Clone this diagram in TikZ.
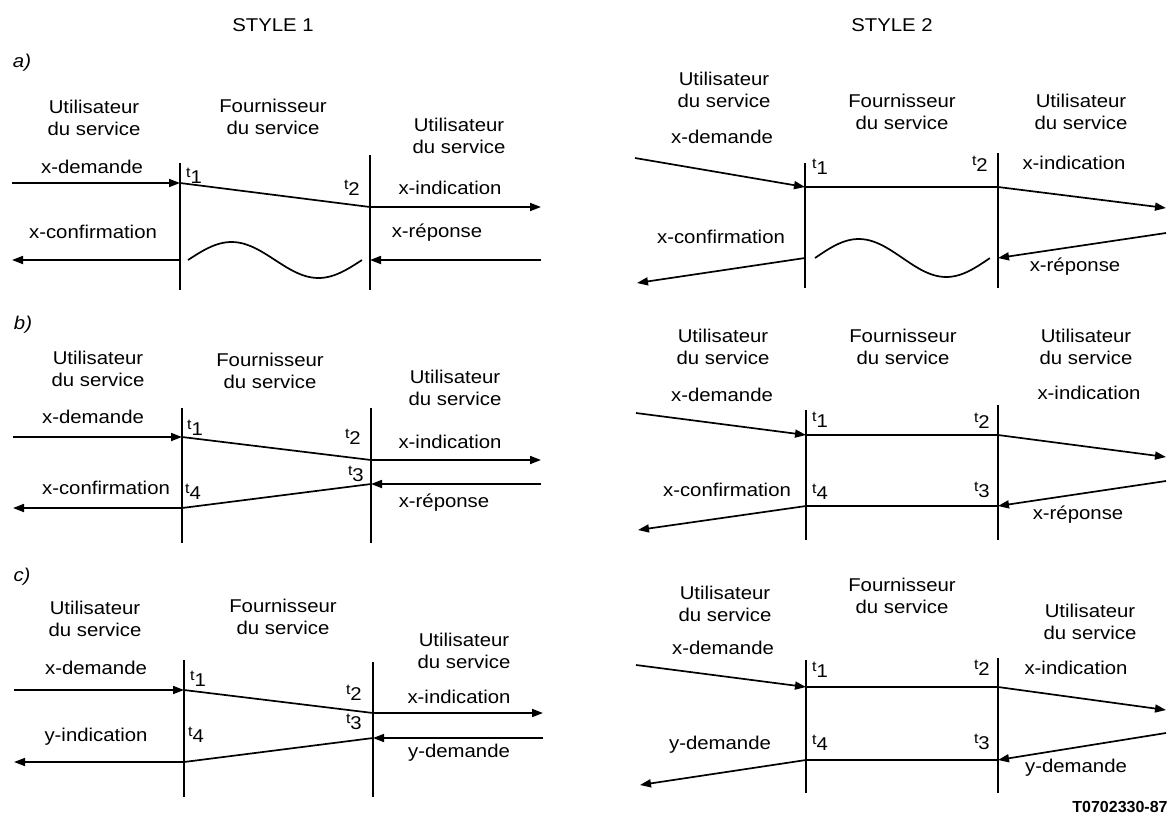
\documentclass[tikz,border=0pt]{standalone}
\usepackage{fontspec}
\usetikzlibrary{arrows.meta}
\newfontfamily\labfont[FakeStretch=1.1]{Liberation Sans}
\newfontfamily\codefont{Liberation Sans}
\newcommand\lab{\labfont\fontsize{18.5}{21.5}\selectfont}
\newcommand\tsb[1]{\raisebox{6.5pt}{\fontsize{14.5}{14.5}\selectfont t}#1}
\begin{document}
\begin{tikzpicture}[x=1pt,y=-1pt,
 lbl/.style={font=\lab,inner sep=0pt},
 hdr/.style={lbl,align=center},
 tw/.style={lbl,anchor=west},
 te/.style={lbl,anchor=east},
 vline/.style={line width=2.3pt},
 sig/.style={line width=1.7pt},
 arr/.style={sig,-{Triangle[length=11pt,width=8pt]}},
 wave/.style={line width=1.7pt}]
\useasboundingbox (0,0) rectangle (1168,823);

\node[lbl] (st1) at (273,25) {STYLE 1};
\node[lbl] (st2) at (892,25) {STYLE 2};

%% ---------------- STYLE 1, a)
\node[lbl,font=\lab\itshape] (la) at (22,63) {a)};
\node[hdr] (aUL) at (94,118) {Utilisateur\\du service};
\node[hdr] (aFM) at (273,117) {Fournisseur\\du service};
\node[hdr] (aUR) at (459,136) {Utilisateur\\du service};
\coordinate (a1t) at (180,163); \coordinate (a1b) at (180,290);
\coordinate (a2t) at (370,155); \coordinate (a2b) at (370,290);
\coordinate (aIn) at (12,183);  \coordinate (aP1) at (180,183);
\coordinate (aP2) at (370,207); \coordinate (aOut) at (541,207);
\coordinate (aRin) at (541,260); \coordinate (aP3) at (370,260);
\coordinate (aP4) at (180,260); \coordinate (aCout) at (12,260);
\draw[vline] (a1t) -- (a1b);
\draw[vline] (a2t) -- (a2b);
\draw[arr] (aIn) -- (aP1);
\draw[sig] (aP1) -- (aP2);
\draw[arr] (aP2) -- (aOut);
\draw[arr] (aRin) -- (aP3);
\draw[arr] (aP4) -- (aCout);
\draw[wave] plot[domain=0:1,samples=60] ({188+174*\x},{260-18*sin(360*\x)});
\node[lbl] (axd) at (92,167) {x-demande};
\node[tw] (at1) at (186,176) {\tsb{1}};
\node[te] (at2) at (360,188) {\tsb{2}};
\node[lbl] (axi) at (450,188) {x-indication};
\node[lbl] (axr) at (437,233) {x-réponse};
\node[lbl] (axc) at (93,232) {x-confirmation};

%% ---------------- STYLE 1, b)
\node[lbl,font=\lab\itshape] (lb) at (23,325) {b)};
\node[hdr] (bUL) at (98,369) {Utilisateur\\du service};
\node[hdr] (bFM) at (270,371) {Fournisseur\\du service};
\node[hdr] (bUR) at (455,388) {Utilisateur\\du service};
\coordinate (b1t) at (182,408); \coordinate (b1b) at (182,543);
\coordinate (b2t) at (371,408); \coordinate (b2b) at (371,543);
\coordinate (bIn) at (13,437);  \coordinate (bP1) at (182,437);
\coordinate (bP2) at (371,460); \coordinate (bOut) at (541,460);
\coordinate (bRin) at (541,484); \coordinate (bP3) at (371,484);
\coordinate (bP4) at (182,508); \coordinate (bCout) at (13,508);
\draw[vline] (b1t) -- (b1b);
\draw[vline] (b2t) -- (b2b);
\draw[arr] (bIn) -- (bP1);
\draw[sig] (bP1) -- (bP2);
\draw[arr] (bP2) -- (bOut);
\draw[arr] (bRin) -- (bP3);
\draw[sig] (bP3) -- (bP4);
\draw[arr] (bP4) -- (bCout);
\node[lbl] (bxd) at (93,417) {x-demande};
\node[tw] (bt1) at (187,428) {\tsb{1}};
\node[te] (bt2) at (361,437) {\tsb{2}};
\node[lbl] (bxi) at (450,442) {x-indication};
\node[te] (bt3) at (364,474) {\tsb{3}};
\node[lbl] (bxr) at (444,503) {x-réponse};
\node[lbl] (bxc) at (106,488) {x-confirmation};
\node[tw] (bt4) at (185,492) {\tsb{4}};

%% ---------------- STYLE 1, c)
\node[lbl,font=\lab\itshape] (lc) at (22,577) {c)};
\node[hdr] (cUL) at (95,619) {Utilisateur\\du service};
\node[hdr] (cFM) at (283,617) {Fournisseur\\du service};
\node[hdr] (cUR) at (464,651) {Utilisateur\\du service};
\coordinate (c1t) at (184,660); \coordinate (c1b) at (184,797);
\coordinate (c2t) at (373,662); \coordinate (c2b) at (373,797);
\coordinate (cIn) at (14,690);  \coordinate (cP1) at (184,690);
\coordinate (cP2) at (373,713); \coordinate (cOut) at (543,713);
\coordinate (cRin) at (543,738); \coordinate (cP3) at (373,738);
\coordinate (cP4) at (184,762); \coordinate (cCout) at (14,762);
\draw[vline] (c1t) -- (c1b);
\draw[vline] (c2t) -- (c2b);
\draw[arr] (cIn) -- (cP1);
\draw[sig] (cP1) -- (cP2);
\draw[arr] (cP2) -- (cOut);
\draw[arr] (cRin) -- (cP3);
\draw[sig] (cP3) -- (cP4);
\draw[arr] (cP4) -- (cCout);
\node[lbl] (cxd) at (96,668) {x-demande};
\node[tw] (ct1) at (190,679) {\tsb{1}};
\node[te] (ct2) at (362,693) {\tsb{2}};
\node[lbl] (cxi) at (459,697) {x-indication};
\node[te] (ct3) at (362,722) {\tsb{3}};
\node[lbl] (cyd) at (459,753) {y-demande};
\node[lbl] (cyi) at (96,737) {y-indication};
\node[tw] (ct4) at (188,735) {\tsb{4}};

%% ---------------- STYLE 2, a)
\node[hdr] (AUL) at (724,90) {Utilisateur\\du service};
\node[hdr] (AFM) at (902,112) {Fournisseur\\du service};
\node[hdr] (AUR) at (1081,112) {Utilisateur\\du service};
\coordinate (A1t) at (805,163); \coordinate (A1b) at (805,288);
\coordinate (A2t) at (998,153); \coordinate (A2b) at (998,288);
\coordinate (AIn) at (635,158); \coordinate (AP1) at (805,187);
\coordinate (AP2) at (998,187); \coordinate (AOut) at (1166,208);
\coordinate (ARin) at (1166,233); \coordinate (AP3) at (998,258);
\coordinate (AP4) at (805,258); \coordinate (ACout) at (637,283);
\draw[vline] (A1t) -- (A1b);
\draw[vline] (A2t) -- (A2b);
\draw[arr] (AIn) -- (AP1);
\draw[sig] (AP1) -- (AP2);
\draw[arr] (AP2) -- (AOut);
\draw[arr] (ARin) -- (AP3);
\draw[arr] (AP4) -- (ACout);
\draw[wave] plot[domain=0:1,samples=60] ({815+175*\x},{258-19*sin(360*\x)});
\node[lbl] (Axd) at (722,137) {x-demande};
\node[tw] (At1) at (812,167) {\tsb{1}};
\node[te] (At2) at (988,164) {\tsb{2}};
\node[lbl] (Axi) at (1074,163) {x-indication};
\node[lbl] (Axr) at (1075,267) {x-réponse};
\node[lbl] (Axc) at (721,237) {x-confirmation};

%% ---------------- STYLE 2, b)
\node[hdr] (BUL) at (723,347) {Utilisateur\\du service};
\node[hdr] (BFM) at (903,347) {Fournisseur\\du service};
\node[hdr] (BUR) at (1086,347) {Utilisateur\\du service};
\coordinate (B1t) at (806,410); \coordinate (B1b) at (806,540);
\coordinate (B2t) at (998,405); \coordinate (B2b) at (998,540);
\coordinate (BIn) at (636,413); \coordinate (BP1) at (806,435);
\coordinate (BP2) at (998,435); \coordinate (BOut) at (1166,457);
\coordinate (BRin) at (1166,481); \coordinate (BP3) at (998,506);
\coordinate (BP4) at (806,506); \coordinate (BCout) at (638,530);
\draw[vline] (B1t) -- (B1b);
\draw[vline] (B2t) -- (B2b);
\draw[arr] (BIn) -- (BP1);
\draw[sig] (BP1) -- (BP2);
\draw[arr] (BP2) -- (BOut);
\draw[arr] (BRin) -- (BP3);
\draw[sig] (BP3) -- (BP4);
\draw[arr] (BP4) -- (BCout);
\node[lbl] (Bxd) at (722,395) {x-demande};
\node[tw] (Bt1) at (812,420) {\tsb{1}};
\node[te] (Bt2) at (990,421) {\tsb{2}};
\node[lbl] (Bxi) at (1089,393) {x-indication};
\node[tw] (Bt4) at (812,492) {\tsb{4}};
\node[te] (Bt3) at (990,490) {\tsb{3}};
\node[lbl] (Bxc) at (727,490) {x-confirmation};
\node[lbl] (Bxr) at (1078,515) {x-réponse};

%% ---------------- STYLE 2, c)
\node[hdr] (CUL) at (725,604) {Utilisateur\\du service};
\node[hdr] (CFM) at (902,596) {Fournisseur\\du service};
\node[hdr] (CUR) at (1090,622) {Utilisateur\\du service};
\coordinate (C1t) at (806,660); \coordinate (C1b) at (806,793);
\coordinate (C2t) at (998,658); \coordinate (C2b) at (998,793);
\coordinate (CIn) at (636,665); \coordinate (CP1) at (806,687);
\coordinate (CP2) at (998,687); \coordinate (COut) at (1166,710);
\coordinate (CRin) at (1166,733); \coordinate (CP3) at (998,760);
\coordinate (CP4) at (806,760); \coordinate (CCout) at (640,785);
\draw[vline] (C1t) -- (C1b);
\draw[vline] (C2t) -- (C2b);
\draw[arr] (CIn) -- (CP1);
\draw[sig] (CP1) -- (CP2);
\draw[arr] (CP2) -- (COut);
\draw[arr] (CRin) -- (CP3);
\draw[sig] (CP3) -- (CP4);
\draw[arr] (CP4) -- (CCout);
\node[lbl] (Cxd) at (723,648) {x-demande};
\node[tw] (Ct1) at (812,670) {\tsb{1}};
\node[te] (Ct2) at (990,668) {\tsb{2}};
\node[lbl] (Cxi) at (1076,668) {x-indication};
\node[tw] (Ct4) at (812,743) {\tsb{4}};
\node[te] (Ct3) at (990,742) {\tsb{3}};
\node[lbl] (Cydl) at (720,745) {y-demande};
\node[lbl] (Cydr) at (1076,768) {y-demande};

\node[inner sep=0pt,font=\codefont\bfseries\fontsize{16}{16}\selectfont] (code) at (1120,807) {T0702330-87};
\end{tikzpicture}
\end{document}
